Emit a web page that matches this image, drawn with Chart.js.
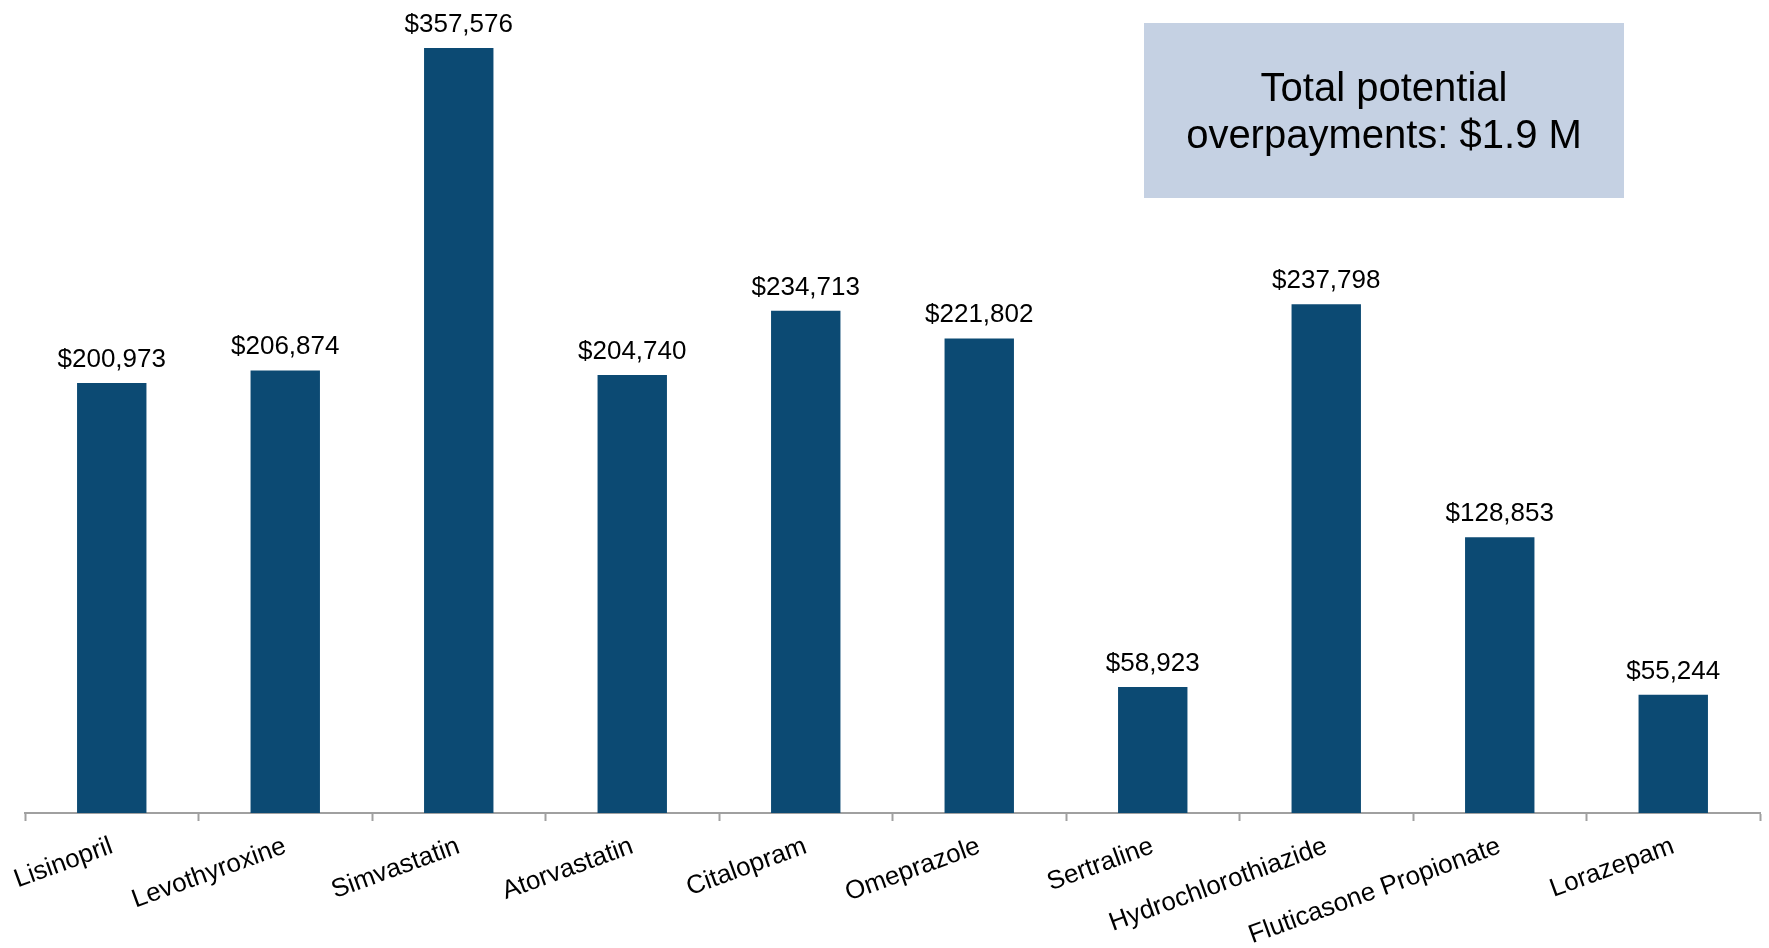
<!DOCTYPE html>
<html>
<head>
<meta charset="utf-8">
<script src="https://cdn.jsdelivr.net/npm/chart.js@4"></script>
<style>
  html, body { margin: 0; padding: 0; background: #fff; }
  #wrap { width: 1769px; height: 948px; position: relative; }
</style>
</head>
<body>
<div id="wrap"><canvas id="myChart"></canvas></div>
<script>
let drugs = ['Lisinopril', 'Levothyroxine', 'Simvastatin', 'Atorvastatin', 'Citalopram',
  'Omeprazole', 'Sertraline', 'Hydrochlorothiazide', 'Fluticasone Propionate', 'Lorazepam'];

let overpayments = [200973, 206874, 357576, 204740, 234713, 221802, 58923, 237798, 128853, 55244];

let boxLines = ['Total potential', 'overpayments: $1.9 M'];

function money(v) {
  return '$' + v.toLocaleString('en-US');
}

// numbers over the bars
var valueLabels = {
  id: 'valueLabels',
  afterDatasetsDraw(chart) {
    var ctx = chart.ctx;
    var meta = chart.getDatasetMeta(0);
    ctx.save();
    ctx.font = '26px "Liberation Sans", Arial, sans-serif';
    ctx.fillStyle = '#000';
    ctx.textAlign = 'center';
    ctx.textBaseline = 'alphabetic';
    meta.data.forEach((bar, i) => {
      ctx.fillText(money(overpayments[i]), bar.x, bar.y - 16);
    });
    ctx.restore();
  }
};

// the grey-blue note box top right
var totalBox = {
  id: 'totalBox',
  afterDraw(chart) {
    var ctx = chart.ctx;
    ctx.save();
    ctx.fillStyle = '#c5d1e3';
    ctx.fillRect(1144, 23, 480, 175);
    ctx.font = '40px "Liberation Sans", Arial, sans-serif';
    ctx.fillStyle = '#000';
    ctx.textAlign = 'center';
    ctx.textBaseline = 'middle';
    ctx.fillText(boxLines[0], 1384, 90);
    ctx.fillText(boxLines[1], 1384, 137);
    ctx.restore();
  }
};

var ctx = document.getElementById('myChart').getContext('2d');

var myChart = new Chart(ctx, {
  type: 'bar',
  data: {
    labels: drugs,
    datasets: [{
      data: overpayments,
      backgroundColor: '#0c4a73',
      borderWidth: 0,
      categoryPercentage: 1,
      barPercentage: 0.4
    }]
  },
  options: {
    responsive: true,
    maintainAspectRatio: false,
    animation: false,
    layout: { padding: { left: 25, right: 9, top: 0, bottom: 0 } },
    plugins: {
      legend: { display: false },
      tooltip: { enabled: false }
    },
    scales: {
      x: {
        grid: {
          display: true,
          drawOnChartArea: false,
          drawTicks: true,
          tickLength: 8,
          tickWidth: 2,
          color: '#a0a0a0',
          offset: true
        },
        border: { display: true, color: '#a0a0a0', width: 2 },
        ticks: {
          autoSkip: false,
          maxRotation: 20,
          minRotation: 20,
          padding: 10,
          color: '#000',
          font: { family: '"Liberation Sans", Arial, sans-serif', size: 26 }
        },
        afterFit(scale) {
          scale.height = 135;
        }
      },
      y: {
        display: false,
        min: 0,
        max: 380000
      }
    }
  },
  plugins: [valueLabels, totalBox]
});
</script>
</body>
</html>
